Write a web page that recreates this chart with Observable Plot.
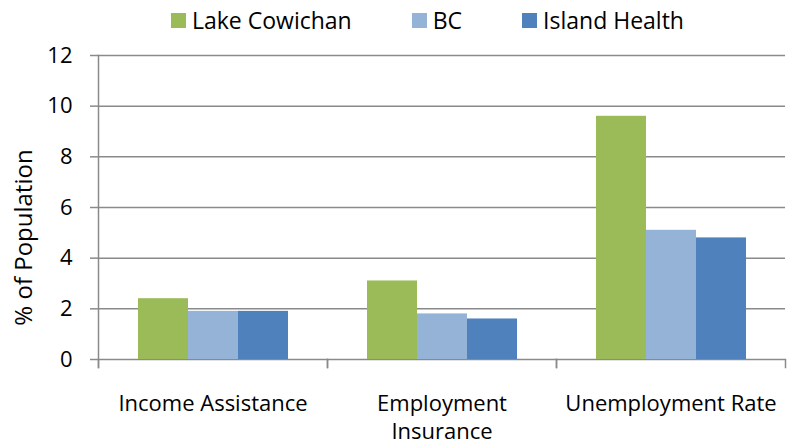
<!DOCTYPE html>
<html>
<head>
<meta charset="utf-8">
<script src="https://cdn.jsdelivr.net/npm/d3@7"></script>
<script src="https://cdn.jsdelivr.net/npm/@observablehq/plot@0.6"></script>
<style>
  html, body { margin: 0; padding: 0; background: #fff; }
  #wrap { width: 794px; height: 446px; overflow: hidden; }
  #legend { height: 40px; display: flex; align-items: center; padding-left: 171px; box-sizing: border-box; }
  #legend .lg-swatches { font-family: "Open Sans", sans-serif !important; font-size: 23px !important; color: #000 !important; min-height: 0 !important; margin: 0 !important; }
  #legend .lg-swatch { margin-right: 60px !important; }
  #legend .lg-swatch > svg { margin-right: 6px !important; }
</style>
</head>
<body>
<div id="wrap">
  <div id="legend"></div>
  <div id="chart"></div>
</div>
<script>
const categories = ["Income Assistance", "Employment Insurance", "Unemployment Rate"];
const series = ["Lake Cowichan", "BC", "Island Health"];
const lakeCowichan = [2.4, 3.1, 9.6];
const bc = [1.9, 1.8, 5.1];
const islandHealth = [1.9, 1.6, 4.8];
const yTicks = [0, 2, 4, 6, 8, 10, 12];
const colors = ["#9BBB59", "#95B3D7", "#4F81BD"];
const yLabel = "% of Population";

const seriesValues = [lakeCowichan, bc, islandHealth];
const data = categories.flatMap((c, i) =>
  seriesValues.map((vals, j) => ({category: c, series: series[j], value: vals[i]}))
);

const gray = "#8a8a8a";

document.getElementById("legend").append(
  Plot.legend({
    color: {type: "ordinal", domain: series, range: colors},
    legend: "swatches",
    swatchSize: 15,
    className: "lg"
  })
);

const chart = Plot.plot({
  width: 794,
  height: 406,
  marginTop: 15,
  marginBottom: 87,
  marginLeft: 98,
  marginRight: 9,
  style: {fontFamily: "Open Sans, sans-serif", fontSize: "22px", color: "#000", background: "#fff"},
  fx: {domain: categories, padding: 0, label: null},
  x: {domain: series, paddingInner: 0, paddingOuter: 0.76, axis: null},
  y: {domain: [0, 12], label: null},
  color: {domain: series, range: colors},
  marks: [
    Plot.gridY(yTicks, {stroke: gray, strokeOpacity: 1, strokeWidth: 1.5}),
    Plot.barY(data, {fx: "category", x: "series", y: "value", fill: "series"}),
    Plot.frame({anchor: "left", facetAnchor: "left", insetBottom: -8, stroke: gray, strokeWidth: 1.5}),
    Plot.frame({anchor: "left", insetTop: 304, insetBottom: -8, stroke: gray, strokeWidth: 1.5}),
    Plot.frame({anchor: "right", insetTop: 304, insetBottom: -8, stroke: gray, strokeWidth: 1.5}),
    Plot.axisY(yTicks, {tickSize: 8, tickPadding: 18, stroke: gray, strokeWidth: 1.5, label: null, fontSize: 22, fill: "#000"}),
    Plot.axisFx({anchor: "bottom", tickSize: 0, tickPadding: 31, lineWidth: 10.1, lineHeight: 1.3, label: null, fontSize: 22, fill: "#000"}),
    Plot.text([yLabel], {text: d => d, frameAnchor: "left", facetAnchor: "left", textAnchor: "middle", rotate: -90, dx: -74, dy: 30, fontSize: 24, fill: "#000"})
  ]
});
document.getElementById("chart").append(chart);
</script>
</body>
</html>
